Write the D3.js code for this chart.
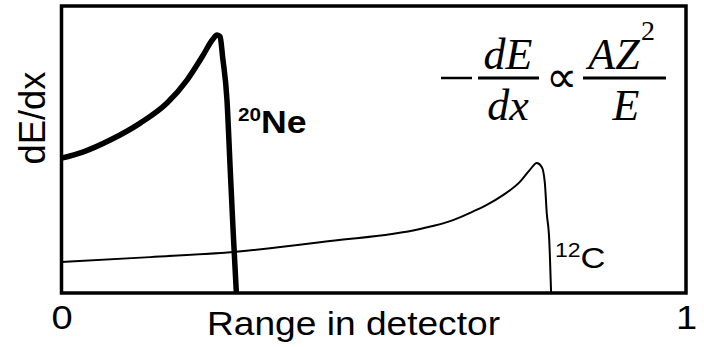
<!DOCTYPE html>
<html><head><meta charset="utf-8">
<script src="https://cdn.jsdelivr.net/npm/d3@7"></script>
<style>body{margin:0;background:#fff}svg{display:block}</style>
</head><body>
<svg id="c" width="704" height="347"></svg>
<script>
// Data (range fraction, relative dE/dx)
const neRange = [0.0, 0.034, 0.078, 0.126, 0.169, 0.201, 0.226, 0.242, 0.249, 0.254, 0.258, 0.265, 0.270, 0.275, 0.280];
const neDedx  = [0.470, 0.491, 0.533, 0.592, 0.662, 0.742, 0.826, 0.883, 0.899, 0.893, 0.822, 0.672, 0.439, 0.209, 0.0];
const cRange  = [0.0, 0.142, 0.275, 0.430, 0.574, 0.627, 0.654, 0.681, 0.707, 0.734, 0.750, 0.761, 0.769, 0.774, 0.777, 0.781, 0.782, 0.784];
const cDedx   = [0.108, 0.125, 0.143, 0.181, 0.223, 0.254, 0.279, 0.307, 0.341, 0.387, 0.429, 0.453, 0.439, 0.383, 0.279, 0.185, 0.132, 0.0];
const xTicks = [0, 1];
const xLabel = "Range in detector";
const yLabel = "dE/dx";

const svg = d3.select("#c");
const L = 61.5, R = 686, T = 6, B = 293;
const x = d3.scaleLinear().domain([0, 1]).range([L, R]);
const y = d3.scaleLinear().domain([0, 1]).range([B, T]);
const sans = "'Liberation Sans', Arial, sans-serif";
const serif = "'Liberation Serif', 'Times New Roman', serif";

const line = d3.line().x(d => x(d[0])).y(d => y(d[1])).curve(d3.curveMonotoneX);
svg.append("clipPath").attr("id", "cp").append("rect")
  .attr("x", L).attr("y", T).attr("width", R - L).attr("height", B - T);

svg.append("path").datum(cRange.map((v, i) => [v, cDedx[i]]))
  .attr("d", line).attr("fill", "none").attr("stroke", "#000").attr("stroke-width", 2)
  .attr("clip-path", "url(#cp)");
svg.append("path").datum(neRange.map((v, i) => [v, neDedx[i]]))
  .attr("d", line).attr("fill", "none").attr("stroke", "#000").attr("stroke-width", 5.5)
  .attr("stroke-linejoin", "round").attr("clip-path", "url(#cp)");

// frame
svg.append("rect").attr("x", L).attr("y", T).attr("width", R - L).attr("height", B - T)
  .attr("fill", "none").attr("stroke", "#000").attr("stroke-width", 3.5);

// x axis tick labels
const ax = svg.append("g").attr("transform", `translate(0,${B})`)
  .call(d3.axisBottom(x).tickValues(xTicks).tickSize(0).tickPadding(12).tickFormat(d3.format("d")));
ax.select(".domain").remove();
ax.selectAll("text").attr("font-family", sans).attr("font-size", 34).attr("fill", "#000")
  .attr("dy", "0.71em").attr("transform", "scale(1.12,1)");

svg.append("text").attr("x", 207).attr("y", 335).attr("font-family", sans)
  .attr("font-size", 34).attr("textLength", 293).attr("lengthAdjust", "spacingAndGlyphs")
  .text(xLabel);

svg.append("text").attr("transform", "translate(45,118) rotate(-90)")
  .attr("text-anchor", "middle").attr("font-family", sans).attr("font-size", 36)
  .attr("textLength", 93).attr("lengthAdjust", "spacingAndGlyphs").text(yLabel);

// curve labels
const ne = svg.append("text").attr("transform", "translate(238,133) scale(1.15,1)")
  .attr("font-family", sans).attr("font-weight", "bold");
ne.append("tspan").attr("font-size", 18).attr("dy", -12).text("20");
ne.append("tspan").attr("font-size", 31).attr("dy", 12).text("Ne");
const cl = svg.append("text").attr("transform", "translate(555,268) scale(1.15,1)")
  .attr("font-family", sans);
cl.append("tspan").attr("font-size", 20).attr("dy", -11).text("12");
cl.append("tspan").attr("font-size", 30).attr("dy", 11).text("C");

// formula
const f = svg.append("g").attr("font-family", serif).attr("font-style", "italic").attr("font-size", 44);
f.append("line").attr("x1", 441).attr("x2", 472).attr("y1", 78).attr("y2", 78).attr("stroke", "#000").attr("stroke-width", 2.5);
f.append("line").attr("x1", 478).attr("x2", 539).attr("y1", 78).attr("y2", 78).attr("stroke", "#000").attr("stroke-width", 3);
f.append("text").attr("x", 508).attr("y", 69).attr("text-anchor", "middle").text("dE");
f.append("text").attr("x", 508).attr("y", 120).attr("text-anchor", "middle").text("dx");
f.append("text").attr("x", 561).attr("y", 92).attr("text-anchor", "middle").attr("font-style", "normal").attr("font-size", 44).text("∝");
f.append("line").attr("x1", 583).attr("x2", 666).attr("y1", 78).attr("y2", 78).attr("stroke", "#000").attr("stroke-width", 3);
f.append("text").attr("x", 614).attr("y", 69).attr("text-anchor", "middle").text("AZ");
f.append("text").attr("x", 641).attr("y", 40).attr("font-style", "normal").attr("font-size", 28).text("2");
f.append("text").attr("x", 626).attr("y", 120).attr("text-anchor", "middle").text("E");
</script>
</body></html>
